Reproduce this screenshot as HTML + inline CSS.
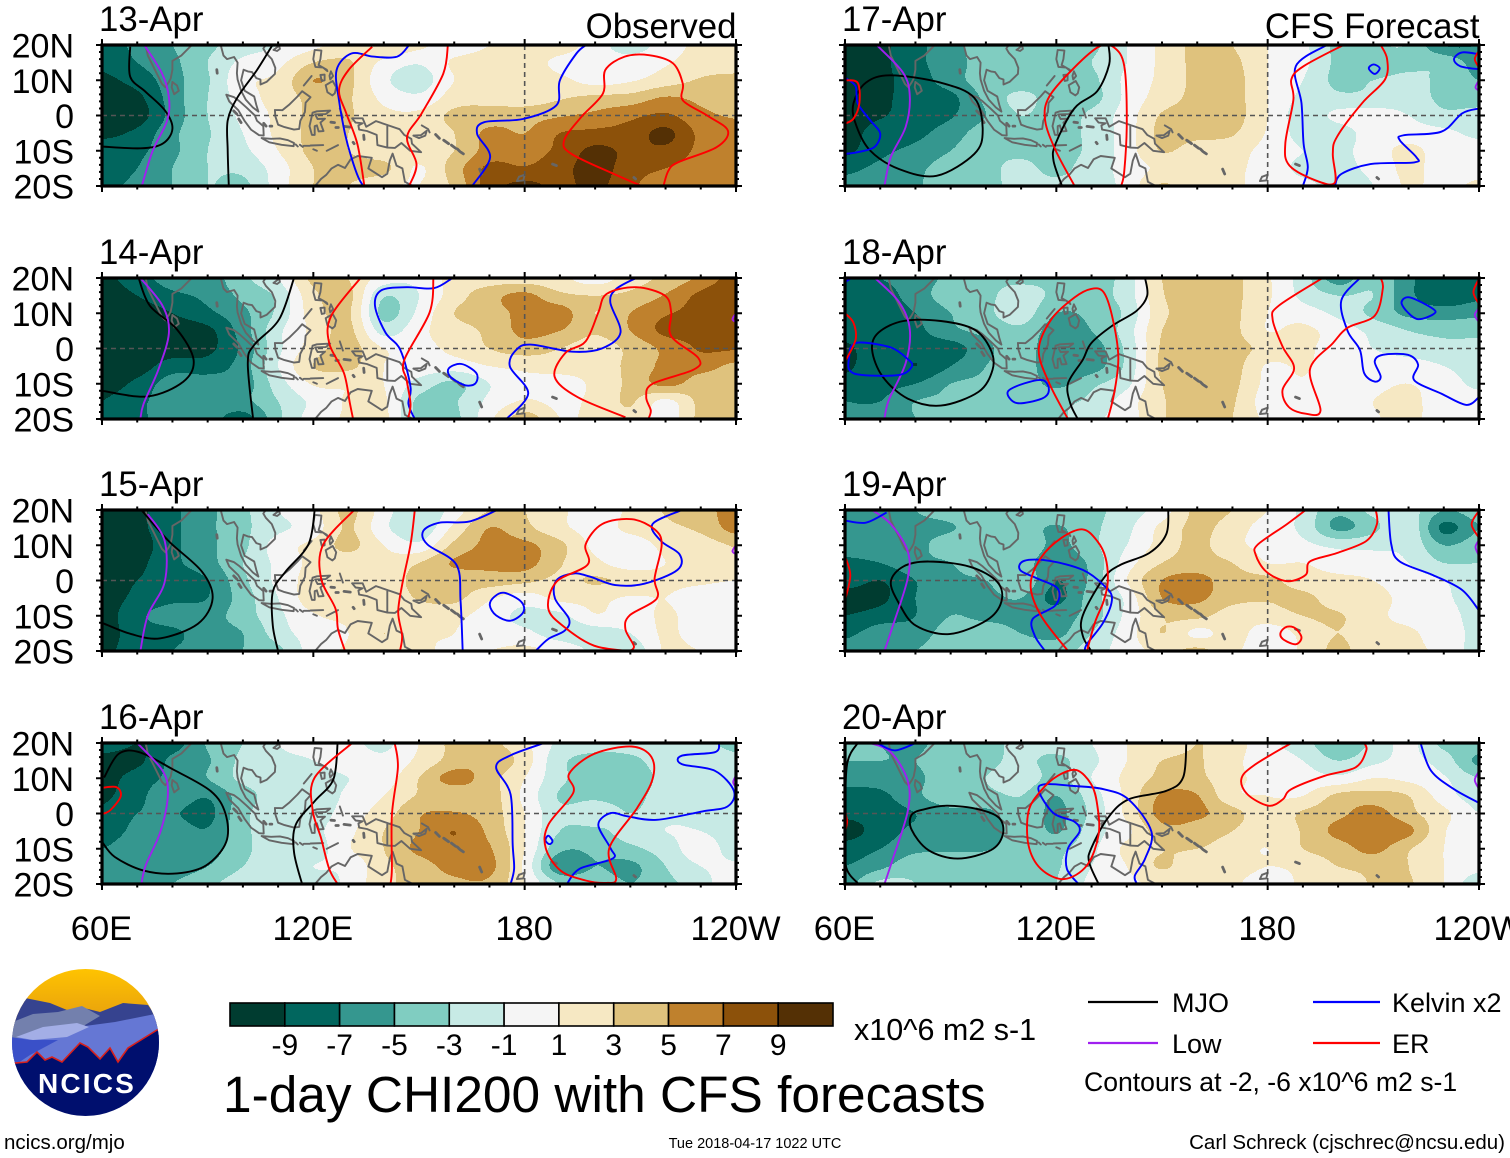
<!DOCTYPE html>
<html lang="en">
<head>
<meta charset="utf-8">
<title>1-day CHI200 with CFS forecasts</title>
<style>
html,body{margin:0;padding:0;background:#fff;}
body{width:1510px;height:1158px;overflow:hidden;}
svg{display:block;}
text{font-family:"Liberation Sans",Arial,sans-serif;fill:#000;}
</style>
</head>
<body>
<svg id="figure" xmlns="http://www.w3.org/2000/svg" width="1510" height="1158" viewBox="0 0 1510 1158">
  <g id="panels"></g>

  <g>
    <defs>
      <clipPath id="logo-clip"><circle cx="85.5" cy="1042.5" r="73.5"/></clipPath>
      <linearGradient id="logo-sky" x1="0" y1="0" x2="0" y2="1"><stop offset="0" stop-color="#ffc400"/><stop offset="1" stop-color="#e49a10"/></linearGradient>
    </defs>
    <g clip-path="url(#logo-clip)">
      <rect x="10" y="968" width="152" height="60" fill="url(#logo-sky)"/>
      <polygon fill="#36438f" points="25,998 50,1003 67,1010 80,1007 100,1012 123,1003 148,1005 165,1030 165,1070 10,1070 10,1030"/>
      <polygon fill="#7380ad" points="10,1023 33,1014 58,1012 82,1006 100,1016 85,1025 70,1040 10,1045"/>
      <polygon fill="#6577d4" points="10,1040 50,1030 85,1026 115,1022 160,1013 165,1080 10,1080"/>
      <polygon fill="#a3aee6" points="16,1037 43,1027 77,1023 89,1027 67,1037 33,1040"/>
      <polygon fill="#3a50c8" points="10,1037 30,1040 58,1040 30,1055 15,1065 10,1065"/>
      <polygon fill="#000f6e" stroke="#d8201c" stroke-width="1.6" points="10,1060 15,1063 27,1062 37,1052 45,1060 52,1057 62,1062 80,1043 88,1047 100,1059 110,1048 118,1062 128,1048 157,1030 170,1030 170,1125 10,1125"/>
    </g>
    <text x="87" y="1093" font-size="28" font-weight="700" text-anchor="middle" letter-spacing="2.2" style="fill:#fff">NCICS</text>
  </g>

  <g id="colorbar"></g>
  <text x="854" y="1040" font-size="30.5">x10^6 m2 s-1</text>
  <text x="223" y="1112" font-size="51.4">1-day CHI200 with CFS forecasts</text>

  <g>
    <line x1="1088" x2="1158" y1="1002" y2="1002" stroke="#000" stroke-width="2.2"/>
    <text x="1172" y="1012" font-size="27">MJO</text>
    <line x1="1088" x2="1158" y1="1043" y2="1043" stroke="#a020f0" stroke-width="2.2"/>
    <text x="1172" y="1053" font-size="27">Low</text>
    <line x1="1313" x2="1380" y1="1002" y2="1002" stroke="#0000ff" stroke-width="2.2"/>
    <text x="1392" y="1012" font-size="27">Kelvin x2</text>
    <line x1="1313" x2="1380" y1="1043" y2="1043" stroke="#ff0000" stroke-width="2.2"/>
    <text x="1392" y="1053" font-size="27">ER</text>
    <text x="1084" y="1091" font-size="26.6">Contours at -2, -6 x10^6 m2 s-1</text>
  </g>

  <text x="4" y="1149" font-size="20.5">ncics.org/mjo</text>
  <text x="755" y="1148" font-size="14.5" text-anchor="middle">Tue 2018-04-17 1022 UTC</text>
  <text x="1505" y="1149" font-size="20.5" text-anchor="end">Carl Schreck (cjschrec@ncsu.edu)</text>
</svg>

<script>
/* ---------- Chart data (CHI200 in 10^6 m2 s-1; rows 20N..20S every 5 deg, columns 60E..120W every 10 deg) ---------- */
const dates = ['13-Apr','14-Apr','15-Apr','16-Apr','17-Apr','18-Apr','19-Apr','20-Apr'];
const colorLevels = [-9,-7,-5,-3,-1,1,3,5,7,9];
const bandColors = ['#003c30','#01665e','#35978f','#80cdc1','#c7eae5','#f5f5f5','#f6e8c3','#dfc27d','#bf812d','#8c510a','#543005'];
const latTicks = [20,10,0,-10,-20];
const latTickLabels = ['20N','10N','0','10S','20S'];
const lonTicks = [60,120,180,240];
const lonTickLabels = ['60E','120E','180','120W'];
const gridLons = [60,70,80,90,100,110,120,130,140,150,160,170,180,190,200,210,220,230,240];
const gridLats = [20,15,10,5,0,-5,-10,-15,-20];

const field13 = [
[-8,-6.5,-5,-3.5,-2,-1,0.5,2,3,1.5,0,1,2,2,0,-2,0,1.5,2],
[-8.5,-7,-5.5,-3,-0.5,0.5,3,3.2,0.5,-0.8,1.3,2,2,0.5,0,0,0.8,2,2.2],
[-9.5,-8.2,-5.8,-3.2,0.5,1.5,5,3.5,-0.5,-2,1,2,2.2,1.5,0.3,0.8,2,3.2,3.5],
[-10,-9.5,-6,-3,0,1.8,3.5,3.2,0.5,-0.5,2,2.5,2,2.8,3.5,3.8,5.2,4.5,4],
[-10,-10,-6.2,-3,-0.5,1.5,3.5,3.2,1.5,1.5,3.5,3.8,4.2,4.8,5.5,6.5,7.3,5.5,4.8],
[-9.5,-8.5,-5.5,-3.2,-1,1.5,3.5,3,1.5,1.8,3,5.5,5,7,7.5,7.8,9.5,6.5,5.8],
[-8,-7.5,-5.5,-3,-1.5,1,3.5,3,1.8,2,3,5.8,6,7.5,9.5,8.5,8.5,6.5,6],
[-8,-7,-5,-3,-2.5,0,3,3.5,3.5,0.8,4,7.5,7.2,8.3,9.8,8,7,6,5.8],
[-7.5,-6.5,-5,-3,-3.5,0,3,3,1.5,1,3.5,8,9.5,8.5,9.5,7.5,5.5,6,5.8]];

const field14 = [
[-9.5,-8,-6,-6,-3.5,-1,3.5,3,0,-0.5,1.8,2,2,1.5,0,2,3.5,5.5,8],
[-10,-9,-7.5,-6.5,-4.5,-2.5,2.5,3.5,-2.8,-1,2,4.2,5.5,3.5,3,3.5,5.2,7.5,8.8],
[-10,-10,-9,-7.5,-5.5,-2.5,2,3.2,-3.6,-0.5,3,4.2,5.5,6,3,5,6.8,7.5,8],
[-10,-10,-10,-9.5,-6,-1.5,1.5,3.5,-1.8,0.5,2,3.5,5.5,5,3.2,5,7.5,7.5,8],
[-10,-10,-10,-9.5,-6.5,-1.5,2,3.8,1,0.5,1.5,3,4,3,2,3.5,5.5,7.2,7.2],
[-10,-10,-8,-8,-6,-1,3,3.5,1,0.3,0,1,1.5,2,2,3.5,5.5,5.8,4.5],
[-10,-8.5,-6,-6,-6,-2,1.2,1.2,1,-1.8,-3.4,-1,0.5,0,1.5,3.5,5.5,4,3.8],
[-9,-7.5,-6,-5.5,-5.5,-3,-0.5,1.2,1.3,-3.5,-3.2,-0.5,1.2,0.5,1.5,3.2,0.5,3.5,3.5],
[-9,-7.5,-6,-6,-8,-3.5,0,1.2,1.5,-3.5,-3.5,0.5,4,1,1.5,2.5,0,3.5,3.5]];

const field15 = [
[-10,-9.5,-7.5,-5.5,-3.5,-1,0.5,3.5,0,-3,0,3,3,1.5,-0.5,1.5,3.2,4.5,5.5],
[-10,-9.5,-7.5,-5.5,-3.5,-1.5,0,3.2,-0.5,-2.5,1.5,5,3.5,1.5,0.3,1.5,2.5,3.5,5.8],
[-10,-10,-7.5,-5.5,-3.5,0,1.5,3.5,1,-0.5,3.5,5.5,5.5,3.5,0.5,0,1.5,2,3.2],
[-10,-9.5,-7.5,-5.8,-3,-0.5,1.5,2,1.5,3,5.2,5.5,5.8,3.2,1.5,0,1,1.5,2.8],
[-10,-9,-8,-7,-3.5,-0.5,1.8,1.5,1.5,3.8,3.8,4,3.5,2.5,3.2,2.5,1.5,1.3,1],
[-10,-8.5,-7.5,-7,-4,-1,2,1.5,1.3,3.2,3.5,1.3,0,1.5,1.5,0.8,1,0,0],
[-10,-7.5,-6,-5.8,-4,-1.5,0.8,1.3,1.3,1.5,1.5,0,-1.5,-1.5,0.8,0,1.3,0,0],
[-10,-8,-7.5,-5.8,-5,-2,0,1,3,1.3,1,0,-0.5,-2,-2,-1,1.3,0,0],
[-9.5,-8,-7,-6,-5,-3.5,0,1.2,1.5,1.2,0.8,1,1.5,0.5,-1.5,-2.5,1.3,1,1]];

const field16 = [
[-7.5,-9,-8,-4.8,-3,-1,-0.5,-0.5,-1.5,1,3.5,3.5,1.5,-1.5,-2.5,-2,-1.5,-2.5,-3.5],
[-10,-9.5,-6.5,-5.2,-2.5,-1.5,-1,0,-0.5,1.5,3.8,4.5,2,-2.5,-3.5,-3.5,-2,-2,-2.5],
[-10,-8,-6.5,-5,-2.5,-2,-2,-1,0,3,5.8,3.8,1,-2.5,-4,-4,-2.5,-2,-2],
[-9.5,-7.5,-6,-6.8,-4,-2,-2.5,-0.5,1,3.2,3.5,3.8,0.5,-3.2,-3.5,-3.8,-2,-2,-1.5],
[-8.5,-7,-6.8,-7.6,-3.5,-2,-2,0,2,4.8,5.2,4,1,-2.5,-1.5,-3,-1.5,-1.5,-1.5],
[-8,-6.5,-6,-6.8,-3.5,-2,-1.5,0.5,3,5,7,4.5,1,-3,-3.5,-2,-1,-1,-2],
[-7,-6,-6,-6,-3.5,-2,-2,0.8,3,5.5,6.3,5.2,1,-4.5,-4.5,-3.5,-2,0,-2],
[-6.5,-6,-6,-5,-3,-2,-1,-0.5,2.5,4,5.8,5.6,0.5,-6.5,-5,-5.5,-3,-1,-0.5],
[-7,-5.5,-5,-3.5,-2,-2,-2,-0.5,2.5,3.5,4.5,4.6,1,-3,-3.5,-5,-3.5,-2,1]];

const field17 = [
[-10,-9.5,-7.5,-6,-3.5,-3.5,-4,-3.5,-1,1.5,3.5,3,1,-0.5,-3.5,-3.2,-3.2,-7,-7],
[-10,-9.5,-7.5,-6,-4,-3.5,-4,-3,-1,1.5,3.5,3.5,1,-0.5,-3.5,-4.2,-3.5,-3.5,-6],
[-10,-9.5,-8,-6,-4,-4,-4,-3.5,-0.5,1.5,3.5,3.8,1,-1,-3.5,-3,-2.5,-3.5,-5],
[-10,-9.5,-8,-7.5,-4.5,-2.5,-4,-3.8,-0.5,2,3.5,3.8,1,-1.5,-2.5,-2.5,-2,-3.5,-4],
[-10,-9.2,-8,-7.2,-5,-3,-4,-2.5,0,3.2,3.6,3.8,1,-2,-0.5,0,-1,-2.5,-2.2],
[-10,-8,-7.5,-6,-4,-4,-3.8,-2.5,0,3.6,3.6,3.2,0.8,-1.8,-2,0,0,-0.5,-1.5],
[-9.5,-7.5,-6.5,-5,-3.5,-3.5,-3.8,-2.5,0,3.1,2,1.8,0.3,-1,-1.5,0,1.5,0,0],
[-7.5,-6.5,-5.5,-4,-3.5,-2.5,-3.5,-2,-0.3,1.5,1.5,1.3,0.3,-1.5,-1.5,-0.5,1.5,0,0],
[-6.5,-6,-5.2,-4.2,-3.5,-2.5,-2.5,-2,-0.3,3.2,1.3,1.3,0.3,-0.5,-1.5,-1,1.3,0.3,1.5]];

const field18 = [
[-7.5,-7,-6,-4.5,-3.5,-3.5,-3.5,-4,-2,3,3.8,3.5,1.3,-2,-6,-3.5,-6.5,-8.5,-8],
[-8.5,-8,-6,-4,-3.5,-2,-3.5,-3.8,-2,2.8,3.8,3.5,1.3,-1.5,-3,-3,-6.5,-8.3,-7.5],
[-8,-8,-7,-5,-3.5,-2,-5,-4.5,-2.5,2.5,3.8,3.5,1,0,-1.5,-3.5,-5.5,-6,-5.5],
[-8,-7.5,-7.5,-5.5,-4.5,-3.5,-6,-5,-2,3,3.8,3.5,1,1.5,0,-1.5,-3,-3.5,-3.5],
[-9.5,-7.5,-8,-8,-5.5,-4,-6.5,-6,-2.5,3.3,3.8,3.8,2.3,1.5,0,-1,-2,-2.5,-2.5],
[-9.5,-7.5,-9,-7,-5,-4,-6.5,-6,-2.5,3.5,3.8,3.8,0.8,1.2,0,0,0,-1,-2],
[-8,-7.5,-7,-5,-4.5,-3.8,-5.5,-3.5,-1.5,3,3.8,3.5,0.5,0.8,0,0.5,1,0,-1.5],
[-7,-7,-5,-4.5,-3.5,-3.5,-3.5,-2.5,0,2.8,3.8,3.2,0,0,0,1,1.5,0,0],
[-7,-5.5,-5,-3.5,-3.5,-3.5,-3.5,-1.5,0,2.8,3.8,3,0.5,0,0,0.8,1.5,0,0]];

const field19 = [
[-5.5,-5.5,-5,-4,-3.5,-3.5,-3.5,-3.5,-2,0,3.5,3,1,-1.5,-4.5,-2.5,-2.2,-5,-4],
[-6,-5.5,-5.5,-5.2,-3.5,-4,-5.2,-3.5,-1.5,1.5,3.5,2,0,-1.5,-5.5,-3.5,-1.5,-7.5,-5],
[-6,-5.5,-5.5,-4,-3.5,-3.2,-5.5,-3.5,-1,1.8,3.5,1.5,0.5,-0.5,-1.5,-1.5,-1.5,-5,-3.8],
[-7.5,-7,-5.5,-5,-3.5,-4,-6.5,-4.5,0,3,3.8,3,1,1,0,0,-1,-3,-3],
[-8,-9,-7,-5.5,-5,-3.5,-7,-4.5,1,5,5.7,3.8,3.5,2,1.5,1,0,-1,-2.5],
[-10,-9.5,-7,-5.5,-5.5,-5,-7.5,-4,-0.5,5,5.4,3.6,3.2,3.5,2,1.5,0.5,-0.5,-2.5],
[-9,-8,-7,-5,-5.5,-5.5,-6,-4,-0.5,3,3.5,2,2,3,3.2,1.5,0.5,0,-2],
[-7.5,-6,-6,-4,-3.8,-5,-5.5,-3,0,3,0.5,1.8,0,1.5,3,1.5,1.3,0,-1.5],
[-6,-5.5,-5,-3.8,-3.5,-3.5,-4,-2,0,1.8,3.5,1.5,0,1.3,3.5,1.5,1.3,0.5,-2]];

const field20 = [
[-4.5,-5,-5.5,-3.8,-3.5,-2.5,-2,-1,1,1.5,3,2,-0.5,-2,-5,-2.5,-0.5,-3.5,-3.5],
[-5,-5,-5,-3.5,-3.5,-2.5,-3.5,-1.5,1,3,3.2,1.5,0,-1,-3,-1.5,-0.5,-2,-5.5],
[-6,-6,-5.5,-3.5,-3,-2,-3.5,-1,1.5,3.5,3.5,1.5,0.5,0,-0.5,1,0.5,-0.8,-3],
[-8,-7.5,-5.5,-3.5,-3.5,-3,-5,-2,1.5,5.3,5.1,1.5,1,1,3.5,3.8,3,0,-2],
[-8.5,-8,-7,-5.6,-5.6,-3.5,-5.5,-2.5,1.5,5.7,5.4,3.8,1.5,3.3,4.5,5.8,3.6,1.5,-1],
[-10,-8,-6.5,-5.6,-6.5,-3.5,-5.2,-2,0.5,4.2,4,3,1.5,3.2,5.6,6.5,5.5,1.2,-0.3],
[-8,-7,-5.5,-5.3,-5.2,-3.5,-3.5,-1.5,1.5,3,3,2,1,3,4,5.6,3.2,1,0],
[-7,-5.5,-3.5,-3.5,-3.5,-3.5,-3.2,-1,1,3.2,1.5,1.8,1,1.5,3,3.5,3,1,-0.3],
[-6,-2.5,-3,-3.5,-3.5,-3.2,-3,-0.5,0.5,1.5,1.5,1.3,0,1.3,1.5,3.2,3.2,1,-2.5]];

/* Contour lines as [lon, lat] traces; a trace whose last point repeats the first is closed */
const mjo13 = [[[68,19.5],[68,11],[72.4,6.7],[77.9,1.4],[80,-3.8],[77.2,-8],[71,-9.3],[60,-8.8]],
[[108.4,20],[104,12.9],[98.5,5.2],[95.7,-1.4],[95.7,-10],[96,-20]]];
const low13 = [[[72,20],[77,12],[79,5.2],[78.5,-1.4],[74.4,-10],[71.3,-20]]];
const kelvin13 = [[[147.2,20],[143.8,16.7],[137,16.7],[130.8,17.6],[126.6,12.9],[127.3,4.3],[129,-5.2],[130.8,-11.9],[132.8,-17.6],[134.2,-20]],
[[165.1,-20],[170.2,-11.9],[166.5,-5.2],[168.5,-1.9],[179.5,-1],[189,2.9],[190,10],[194.7,17.6],[197.4,20]]];
const er13 = [[[136.7,19.5],[130,12.9],[127.3,7.1],[129.4,0.5],[132.5,-8.1],[134.5,-20]],
[[158.2,20],[156.9,11.9],[150.7,0.5],[146.6,-6.2],[149.3,-13.8],[147.2,-20]],
[[213.2,-20],[205.6,-16.7],[193.3,-10.9],[191.2,-7.1],[196,-0.5],[202.2,6.2],[202.9,12.9],[208.4,16.7],[215.3,17.1],[222.1,14.8],[224.9,9],[224.9,4.3],[231.8,0],[237.7,-4.3],[234.5,-9],[223.5,-13.3],[220.8,-15.7],[219.4,-20]]];

const mjo14 = [[[70.4,20],[73.6,12.1],[81.3,5.4],[86,-3.2],[83.1,-9.4],[73,-13.6],[60,-12]],
[[114.5,20],[110.3,8.3],[103.2,1],[101.4,-4.2],[102.9,-20]]];
const low14 = [[[70.9,20],[77.2,12.1],[79,4.4],[76,-6],[71.8,-15.7],[70.9,-20]],[[240,10],[239,8.3],[240,7.5]]];
const kelvin14 = [[[159.5,20],[154.2,17.1],[146.5,17.4],[139.3,16.5],[137.5,12.1],[140.5,4.5],[144.7,-0.4],[147.6,-10.9],[147,-15.7],[148.8,-20]],
[[162.1,-4.4],[166.3,-7],[166,-9.9],[163,-10.4],[158.9,-8],[158.5,-5.6],[162.1,-4.4]],
[[174.8,-20],[181,-12.8],[175.8,-5.1],[177.6,-0.4],[181.7,1.1],[193.6,-0.9],[201.9,0],[207.2,4.5],[204.3,13.1],[206,16.9],[211.6,20]]];
const er14 = [[[133.4,20],[125.1,9.3],[124.5,1.5],[128.7,-7],[130.4,-15.7],[131.3,-20]],
[[154.1,20],[153,10.2],[145.8,-3.3],[146.5,-9],[147.6,-15.7],[147,-19.5]],
[[208.6,-19.5],[195,-13.8],[188.5,-8],[191.5,-1.3],[197.3,2],[200.9,10.2],[203.3,15.5],[211.6,17.4],[219.8,15],[221.6,10.2],[221.6,3.5],[229.3,-2.7],[228,-6],[216.3,-10],[214.5,-13.8],[215.8,-17.6],[215.1,-20]]];

const mjo15 = [[[71.2,20],[78.9,11.2],[88.4,2.5],[91.4,-5.1],[87.2,-12.3],[76.6,-16.4],[68.3,-15.2],[60,-12]],
[[120.4,20],[118.6,10.2],[112.1,2.5],[108.5,-3.2],[108.5,-12.8],[110,-20]]];
const low15 = [[[73,18.8],[77.8,11.2],[77.8,-0.4],[73,-9.9],[70.9,-20]],[[240,10],[239,8.3],[240,7.5]]];
const kelvin15 = [[[172.2,20],[164.2,16.7],[155.8,16.4],[151.2,14],[152.4,10.2],[160.6,4.5],[161.8,-6],[162.4,-20]],
[[174.3,-3.5],[179,-6],[179.6,-9],[176,-11.4],[171.9,-9.9],[170.1,-7],[171.4,-4.6],[174.3,-3.5]],
[[224.6,20],[216.3,16],[218.7,11.2],[224,7.4],[223.4,3],[214,-0.9],[205.7,-1.3],[198.5,1.1],[193.8,2],[189,0],[188.6,-5.1],[192.6,-10.9],[191.4,-14.2],[186.7,-16.6],[183.1,-20]]];
const er15 = [[[131.6,20],[122.8,10.2],[122.2,0.6],[126.3,-8],[127,-13.8],[129,-20]],
[[148.8,20],[147.6,10.2],[145.2,-1.3],[144.1,-9],[145.2,-15.7],[144.6,-20]],
[[209.2,-20],[199.7,-18.5],[191.4,-13.3],[186.7,-8],[189,-0.4],[197.9,4.5],[197.3,10.2],[202,16],[210.4,17.4],[216.9,14.5],[218.9,10.2],[216.9,0.6],[217.5,-5.1],[209.8,-9.9],[208.6,-13.8],[211,-18.6],[209.8,-20]]];

const mjo16 = [[[60,-8],[63.6,-12.3],[71.8,-16.2],[81.3,-17],[89.6,-14.7],[95.3,-8],[95,0.1],[90.8,6.4],[80,12.6],[70.6,17.4],[64.7,16.9],[60.6,10.2]],
[[126.9,20],[125.7,9.7],[120.4,3.5],[115,-3.2],[114.5,-10.9],[116.8,-20]]];
const low16 = [[[70,20],[77.2,12.1],[78.7,5.4],[76.6,-5.1],[72.4,-14.7],[71.2,-20]],[[240,10.8],[239.2,8.9],[240,7.4]]];
const kelvin16 = [[[185.5,20],[176,16.5],[171.9,13.1],[176,5.4],[176.6,-9],[177,-15.7],[176,-20]],
[[186.7,-6.3],[187.9,-7.8],[187,-8.7],[185.9,-7.6],[186.7,-6.3]],
[[235.2,20],[234,17.4],[224.6,16.4],[224.6,14],[234,12.1],[239.4,6.4],[237.6,2],[230.5,0.6],[217.5,-1.8],[209.2,-0.8],[204.4,0.1],[200.9,-3.2],[204.4,-9.9],[205,-12.8],[195.6,-15.7],[192,-20]]];
const er16 = [[[60,7.3],[64.1,7.5],[65.3,4.9],[62.4,1],[60,-0.2]],
[[131,20],[120.4,10.2],[119.8,1],[122.2,-7],[124.5,-15.7],[126.9,-20]],
[[143.1,20],[144,13.1],[142.3,-0.4],[142.3,-15.7],[141.9,-20]],
[[210.4,19],[216,16],[216.3,9.7],[211.9,1.5],[204,-9.9],[206,-18.5],[203.3,-19.7],[197.3,-19],[190.2,-16.2],[186,-9.9],[186.7,-3.2],[193.8,5.9],[192.6,11.2],[199.7,16.9],[210.4,19]]];

const mjo17 = [[[73,11.4],[87.2,9.3],[96.7,5],[99.1,-4.2],[96.7,-10.9],[86,-17.1],[75.4,-15.2],[67.1,-9.9],[63,-2.3],[62.4,3.5],[65.9,9.3],[73,11.4]],
[[134.8,20],[135,14.5],[131.6,6.9],[125.1,2],[119.8,-8],[119.2,-12.8],[121.6,-20]]];
const low17 = [[[69,20],[76.5,12.1],[78.4,5.4],[77.2,-3.3],[73,-11.8],[71.2,-20]],[[240,10],[239,8],[240,7]]];
const kelvin17 = [[[60,10.7],[63,8.3],[63.6,3.5],[67.1,-1.3],[70,-5.1],[68.3,-9],[63.6,-10.4],[60,-10.9]],
[[196.8,20],[188,14],[189.6,3.5],[190.2,-8],[191.4,-14.7],[190,-20]],
[[210.1,14.5],[211.8,13.4],[210.4,11.8],[208.7,13.4],[210.1,14.5]],
[[199.1,-20],[200.9,-16.6],[209.2,-13.8],[221.6,-13.3],[222.2,-11.8],[217.5,-7],[218.7,-5.6],[229.3,-4.6],[235.2,0.6],[240,2]],
[[240,17.4],[235.2,17.9],[232.9,16],[234.7,14],[240,13.1]]];
const er17 = [[[60,10],[63.6,9.3],[64.1,3.5],[62.4,-0.9],[60,-2.3]],
[[125.2,-20],[119.8,-9.9],[116.8,-1.3],[118,5.4],[125.1,13.6],[132.2,19.6],[136.4,19.3],[139.3,14],[140,-1.3],[139.3,-15.7],[138.4,-20]],
[[201.5,20],[190.2,14],[186.7,10.2],[187.3,4.5],[185,-8],[186.2,-14.2],[193.8,-18.5],[199.1,-19],[198.5,-10.9],[199.7,-6],[206.8,3.5],[213.3,10.2],[213.9,16],[212.1,20]],
[[240,18.4],[238.8,16],[240,13.6]]];

const mjo18 = [[[76.6,7.8],[87.2,7.8],[96.7,5.4],[101.4,-0.4],[101.9,-6],[97.9,-12.3],[87.2,-16.2],[77.8,-14.2],[70.7,-8],[67.7,-0.4],[69.5,4.5],[76.6,7.8]],
[[145.2,20],[145.8,15],[142.8,10.7],[135.8,6.4],[129.9,1.5],[127.5,-3.2],[123.3,-9.9],[124,-15.7],[126.1,-20]]];
const low18 = [[[68.5,20],[75.4,13.1],[78.4,5.4],[77.2,-4.2],[72.4,-14.7],[71.2,-20]],[[240,11.5],[238.8,9.5],[240,7.5]]];
const kelvin18 = [[[60,18.8],[61.8,20]],
[[64.7,1.7],[73,0.3],[77.8,-3],[79,-5.1],[75.4,-7.5],[64.7,-7.5],[61.2,-6],[61.2,-2.3],[61.8,0.6],[64.7,1.7]],
[[106.2,-12.3],[110.9,-9.9],[116.2,-9],[117.9,-11.8],[115.9,-14.2],[108.8,-15.5],[106.2,-12.3]],
[[206.2,20],[200.9,13.6],[202.7,5],[206.2,-0.4],[207.4,-7],[210.4,-9.4],[212.1,-8],[210.4,-3.7],[212.7,-1.8],[219.8,-1.8],[222.7,-4.6],[221.6,-9],[229.3,-12.8],[236.4,-16],[240,-13.8]],
[[220.4,14.5],[227,11.2],[227,9.7],[222.8,8.3],[219.8,10.2],[218,13.1],[220.4,14.5]]];
const er18 = [[[60,10],[62.4,7.3],[63,2.5],[60,-3.7]],
[[123.3,-20],[118,-9.9],[115,-0.4],[118.6,8.3],[125.2,14.5],[129.9,16.9],[133.4,16],[135.8,9.3],[137.6,-2.3],[136.4,-12.8],[134.6,-20]],
[[195.6,20],[183.1,12.1],[181.4,8.3],[184.2,0.6],[187.5,-5.6],[184.2,-11.8],[186,-16.6],[190.8,-18.5],[195,-17.6],[192,-6],[198.5,1.5],[202.7,5.9],[210.4,9.3],[212.7,17],[212.1,20]],
[[240,19.8],[238.4,16],[240,12.6]]];

const mjo19 = [[[83.7,5.4],[95.5,3.9],[103.2,-0.4],[104.4,-6],[100.2,-11.3],[89.6,-15.2],[80.1,-12.8],[75.4,-6.6],[73,-0.4],[76.6,4],[83.7,5.4]],
[[151.8,20],[151.2,13.1],[146.4,7.8],[138.1,4.4],[133.4,0.6],[127.5,-9.9],[127.5,-15.7],[129.9,-20]]];
const low19 = [[[67.7,20],[73,16],[77.8,8.3],[77.8,0.6],[73.6,-12.8],[71.2,-20]],[[240,11.5],[239,9.5],[240,7]]];
const kelvin19 = [[[60,17],[65.9,16.4],[71.8,19.3]],
[[128.1,-20],[128.7,-18],[133.4,-11.8],[135.8,-5.1],[133.4,-1.3],[127.5,3],[118,5.6],[110.9,5.6],[109.7,3],[114.5,0.6],[120.4,-2.3],[119.8,-7],[113.3,-10.9],[113.9,-15.7],[116.8,-20]],
[[214.3,20],[215.1,10.2],[217.5,5.4],[227,1.5],[235.2,-2.7],[240,-8.5]]];
const er19 = [[[60,6.9],[61.5,1.5],[60,-5.6]],
[[123.3,-20],[115.6,-9.9],[112.7,-1.3],[115.6,6.4],[121.5,12.1],[127.5,14.5],[131.6,11.2],[134,6.4],[134.6,-0.4],[133.4,-6],[131,-11.8],[128.7,-20]],
[[190.8,20],[185.5,16],[177.2,10.2],[176.6,7.3],[179.6,2.5],[185.5,-0.2],[190.8,1.6],[192,5.4],[199.7,7.8],[208,11.2],[211,16],[210.7,20]],
[[185.5,-13.1],[187.9,-13.6],[189.6,-16.2],[187.9,-18.1],[184.3,-16.6],[183.7,-14.7],[185.5,-13.1]],
[[240,19.8],[237.9,16],[240,12.1]]];

const mjo20 = [[[63.6,20],[60.6,14],[60,-1.3],[60.2,-14.7],[63.6,-19.8]],
[[89,2.2],[97.9,1.2],[103.8,-1.3],[104.8,-6],[101.4,-10.4],[92,-12.8],[83.7,-10.4],[78.9,-4.6],[78.9,-0.4],[82.5,1.2],[89,2.2]],
[[156.9,20],[156,10.2],[151.2,6.4],[140.5,4],[134.6,-1.3],[129.9,-9.9],[129.3,-13.8],[132,-20]]];
const low20 = [[[67.1,20],[73,17.4],[77.8,9.3],[77.8,0.6],[73.6,-12.8],[71.2,-20]],[[240,12],[238.8,9.5],[240,7]]];
const kelvin20 = [[[69.5,19.8],[74.2,17.9],[80.1,20]],
[[126.3,-20],[123,-15.7],[123.3,-9.9],[126.6,-5.1],[125.1,-2.3],[119.2,0.1],[115,6.4],[116.8,8.3],[125.1,7.8],[133.4,6.9],[140.5,4],[147,-5.1],[145.2,-12.8],[142.3,-17.6],[142.9,-20]],
[[223.4,20],[226.4,12.1],[232.9,6.9],[240,3]]];
const er20 = [[[60,0.6],[60.6,-2.3],[60,-5.1]],
[[125.7,12.3],[129.9,8.3],[131.6,2.5],[132,-6],[128.7,-14.7],[122.2,-18.6],[115.6,-15.7],[112.1,-9],[112.1,0.6],[115.6,6.4],[120.4,10.7],[125.7,12.3]],
[[186.7,20],[176,13.6],[172.5,9.7],[174.3,5.4],[180.2,2.2],[184.3,4],[186.7,6.9],[196.2,10.7],[205,13.1],[208,17.9],[207.4,20]]];

const coastlines = [
[[72.4,20],[73,17],[74.5,14],[75.5,12],[77,9],[78,8],[79,9.5],[79.5,10.5],[80,13],[80,15.5],[82.5,17],[85.5,20]],
[[80,9.5],[81.3,8.5],[81.8,7],[80.5,6],[79.8,8],[80,9.5]],
[[93.7,20],[94.5,17],[95.5,16],[97.5,16.6],[98.5,15],[98.3,12],[98.5,10.2],[99.5,7],[100.8,4.5],[102.8,2.3],[104.4,1.1],[103.8,3],[103.2,5.4],[100.5,7],[99.5,10],[100.2,13],[101.4,12.5],[102.6,12.3],[103.8,10.6],[105,10.2],[105,8.8],[106.8,9.6],[109.1,11.8],[109.2,13.5],[108.2,16],[106.5,17.8],[105.8,19],[106.5,20]],
[[108.7,18.6],[110.3,19.8],[110.5,18.9],[109.7,18.3],[108.7,18.6]],
[[95.3,5.9],[97.5,5.2],[99.1,4],[101,2.3],[103.4,0],[104,-1.5],[105.8,-3],[105.9,-5.7],[104.6,-5.6],[102.3,-4],[100.5,-1.6],[98.7,1.5],[96.1,4],[95.3,5.9]],
[[105.3,-6.4],[108,-6.6],[110.5,-6.5],[112.8,-7],[114.5,-7.8],[114.4,-8.7],[111,-8.3],[107.5,-7.6],[105.3,-6.4]],
[[115,-8.2],[115.6,-8.8]],[[116.2,-8.3],[117,-8.9]],[[117.3,-8.6],[119,-8.6]],[[119.2,-8.5],[122.8,-8.4]],[[120,-9.6],[121,-10]],[[123.8,-10],[127,-8.4]],
[[109.1,1.6],[111.2,1.5],[113.3,3.2],[115.5,5.4],[116.8,6.9],[119.2,5.2],[117.8,3.6],[117.6,1],[116.3,-1.5],[116,-3.8],[114.5,-4],[111.8,-3.3],[110,-2.6],[109.2,-0.2],[109.1,1.6]],
[[119.8,0.8],[121,1.2],[124.8,1.4],[123.5,0.4],[120.5,0.3],[121.2,-1],[123.3,-0.9],[122,-2],[122.9,-4.4],[121.5,-4.5],[121,-2.8],[120.4,-3],[120.4,-5.5],[119.6,-5.5],[118.9,-3],[119.8,0.8]],
[[120.4,18.6],[122.3,18.4],[122,16],[121.5,14.3],[123.8,13],[124,12.6],[122.8,13.6],[120.6,13.8],[120,16],[120.4,18.6]],
[[122,11.5],[123.2,11.6],[123.2,10],[122.4,9.8],[122,11.5]],
[[125,12.5],[125.6,11.2],[124.8,10.2],[124.6,11.3],[125,12.5]],
[[123.5,8.6],[125.5,9.8],[126.5,8],[126.1,6.3],[125.4,5.7],[124,6.6],[123.5,8.6]],
[[117.3,8.5],[119.5,11.2]],
[[127.5,2],[128,0.6],[128.4,-0.6]],
[[131,-0.8],[134,-0.8],[135,-3.2],[137.8,-1.6],[141,-2.7],[144.5,-3.9],[145.8,-5.5],[147.8,-6.6],[148,-8],[150.6,-10.4],[147.5,-10],[145,-7.8],[143.2,-9.2],[141,-9.1],[138.2,-8.4],[138,-5.5],[135.2,-4.4],[133,-4],[132.8,-2.8],[134,-2.2],[132,-2],[131,-0.8]],
[[141,-2.7],[141,-9.1]],
[[120.5,-20],[122.2,-18],[123.7,-16.8],[125.2,-15],[127,-14],[129,-14.9],[130.6,-12.4],[132.6,-11.5],[136.6,-12],[135.6,-15],[139.5,-17.5],[141,-16.5],[141.7,-12.8],[142.5,-10.8],[143.6,-14.2],[145.3,-15],[146,-18.8],[148.2,-20]],
[[148.4,-5.7],[150.5,-5.6],[152.2,-4.3],[151.8,-5.7],[150,-6.4],[148.4,-5.7]],
[[150.8,-2.8],[152.6,-3.9],[153,-4.8]],
[[178.4,-17.4],[180,-16.8],[179.6,-18.4],[177.8,-18.6],[178.4,-17.4]]
];
const smallIslands = [
[[154.7,-5.4],[155.8,-6.5]],[[157,-7],[158.4,-8]],[[159.2,-8.4],[160.4,-9.3]],[[160.9,-9.5],[161.6,-10.2]],[[161.9,-10.4],[162.6,-10.9]],
[[167.2,-15.2],[167.8,-16.6]],
[[187.9,-13.8],[189,-14.2]],[[211,-17.6],[211.5,-18]],
[[92.6,13],[92.7,12]],[[97.4,1.3],[98.3,0.4]],[[98.8,-1],[99.5,-2]],[[105.9,-2.2],[106.6,-3]],[[107.7,-3],[108.2,-3]],
[[128.7,-3.1],[130.5,-3.3]],[[126.4,-3.4],[127.1,-3.4]],[[134.3,-5.6],[134.4,-6.8]],[[131.3,-7.6],[131.6,-8]],[[125,-1.9],[126,-2]]
];

const fields = [field13,field14,field15,field16,field17,field18,field19,field20];
const mjoLines = [mjo13,mjo14,mjo15,mjo16,mjo17,mjo18,mjo19,mjo20];
const lowLines = [low13,low14,low15,low16,low17,low18,low19,low20];
const kelvinLines = [kelvin13,kelvin14,kelvin15,kelvin16,kelvin17,kelvin18,kelvin19,kelvin20];
const erLines = [er13,er14,er15,er16,er17,er18,er19,er20];

/* ---------- Layout ---------- */
const SVGNS = 'http://www.w3.org/2000/svg';
const panelW = 634, panelH = 141;
const colX = [102, 845];
const rowY = [45, 278, 510, 743];

function mk(tag, attrs, parent, txt) {
  const e = document.createElementNS(SVGNS, tag);
  for (const k in attrs) e.setAttribute(k, attrs[k]);
  if (txt !== undefined) e.textContent = txt;
  parent.appendChild(e);
  return e;
}
function clampIdx(i, n) { return i < 0 ? 0 : (i > n - 1 ? n - 1 : i); }
function cubic(a, b, c, d, t) {
  return b + 0.5 * t * (c - a + t * (2 * a - 5 * b + 4 * c - d + t * (3 * (b - c) + d - a)));
}
function sampleField(f, lon, lat) {
  const fx = (lon - gridLons[0]) / (gridLons[1] - gridLons[0]);
  const fy = (gridLats[0] - lat) / (gridLats[0] - gridLats[1]);
  const ix = Math.floor(fx), iy = Math.floor(fy);
  const tx = fx - ix, ty = fy - iy;
  const vals = [];
  for (let j = -1; j <= 2; j++) {
    const row = f[clampIdx(iy + j, gridLats.length)];
    vals.push(cubic(row[clampIdx(ix - 1, gridLons.length)], row[clampIdx(ix, gridLons.length)],
                    row[clampIdx(ix + 1, gridLons.length)], row[clampIdx(ix + 2, gridLons.length)], tx));
  }
  return cubic(vals[0], vals[1], vals[2], vals[3], ty);
}
function bandIndex(v) {
  let i = 0;
  while (i < colorLevels.length && v >= colorLevels[i]) i++;
  return i;
}
function smoothPath(pts, xs, ys) {
  const p = pts.map(q => [xs(q[0]), ys(q[1])]);
  const n = p.length;
  const closed = n > 3 && pts[0][0] === pts[n - 1][0] && pts[0][1] === pts[n - 1][1];
  let d = 'M' + p[0][0].toFixed(1) + ' ' + p[0][1].toFixed(1);
  for (let i = 0; i < n - 1; i++) {
    let p0 = p[i - 1], p3 = p[i + 2];
    if (!p0) p0 = closed ? p[n - 2] : p[i];
    if (!p3) p3 = closed ? p[1] : p[i + 1];
    const p1 = p[i], p2 = p[i + 1];
    const c1x = p1[0] + (p2[0] - p0[0]) / 6, c1y = p1[1] + (p2[1] - p0[1]) / 6;
    const c2x = p2[0] - (p3[0] - p1[0]) / 6, c2y = p2[1] - (p3[1] - p1[1]) / 6;
    d += 'C' + c1x.toFixed(1) + ' ' + c1y.toFixed(1) + ' ' + c2x.toFixed(1) + ' ' + c2y.toFixed(1) + ' ' + p2[0].toFixed(1) + ' ' + p2[1].toFixed(1);
  }
  return d;
}
function polyPath(pts, xs, ys) {
  return pts.map((q, i) => (i ? 'L' : 'M') + xs(q[0]).toFixed(1) + ' ' + ys(q[1]).toFixed(1)).join('');
}

const panelsRoot = document.getElementById('panels');
const lineStyles = [
  { key: 'mjo', color: '#000000', arr: mjoLines },
  { key: 'low', color: '#a020f0', arr: lowLines },
  { key: 'kelvin', color: '#0000ff', arr: kelvinLines },
  { key: 'er', color: '#ff0000', arr: erLines }
];

dates.forEach(function (date, idx) {
  const col = idx < 4 ? 0 : 1, row = idx % 4;
  const x0 = colX[col], y0 = rowY[row];
  const xs = lon => x0 + (lon - 60) / 180 * panelW;
  const ys = lat => y0 + (20 - lat) / 40 * panelH;

  const g = mk('g', {}, panelsRoot);
  
  

  const clipId = 'clip-' + idx;
  const defs = mk('defs', {}, g);
  const cp = mk('clipPath', { id: clipId }, defs);
  mk('rect', { x: x0, y: y0, width: panelW, height: panelH }, cp);

  /* filled bands, built from the field array through the axis functions */
  const bandD = bandColors.map(() => []);
  const f = fields[idx];
  for (let py = 0; py < panelH; py++) {
    const lat = 20 - (py + 0.5) / panelH * 40;
    let runStart = 0, runBand = -1;
    for (let px = 0; px <= panelW; px++) {
      let b = -2;
      if (px < panelW) b = bandIndex(sampleField(f, 60 + (px + 0.5) / panelW * 180, lat));
      if (b !== runBand) {
        if (runBand >= 0) bandD[runBand].push('M' + (x0 + runStart) + ' ' + (y0 + py) + 'h' + (px - runStart) + 'v1h-' + (px - runStart) + 'z');
        runStart = px; runBand = b;
      }
    }
  }
  const fg = mk('g', { 'shape-rendering': 'crispEdges' }, g);
  
  
  bandColors.forEach(function (c, b) {
    if (!bandD[b].length) return;
    const bp = mk('path', { d: bandD[b].join(''), fill: c }, fg);
    
    
  });

  const clipG = mk('g', { 'clip-path': 'url(#' + clipId + ')' }, g);
  
  

  /* coastlines */
  const coastD = coastlines.map(c => polyPath(c, xs, ys)).join('');
  const coast = mk('path', { d: coastD, fill: 'none', stroke: '#666666', 'stroke-width': 1.9, 'stroke-linejoin': 'round', 'stroke-linecap': 'round' }, clipG);
  
  
  const islandD = smallIslands.map(c => polyPath(c, xs, ys)).join('');
  const islands = mk('path', { d: islandD, fill: 'none', stroke: '#666666', 'stroke-width': 2.8, 'stroke-linecap': 'round' }, clipG);
  
  

  /* reference lines */
  const eq = mk('line', { x1: xs(60), x2: xs(240), y1: ys(0), y2: ys(0), stroke: '#555', 'stroke-width': 1.6, 'stroke-dasharray': '5 4' }, clipG);
  
  
  const dl = mk('line', { x1: xs(180), x2: xs(180), y1: ys(20), y2: ys(-20), stroke: '#555', 'stroke-width': 1.6, 'stroke-dasharray': '5 4' }, clipG);
  
  

  /* filtered contours */
  lineStyles.forEach(function (st) {
    st.arr[idx].forEach(function (trace, k) {
      const lp = mk('path', { d: smoothPath(trace, xs, ys), fill: 'none', stroke: st.color, 'stroke-width': 1.9, 'stroke-linejoin': 'round' }, clipG);
      
      
    });
  });

  /* frame and ticks */
  let tickD = '';
  for (let lon = 60; lon <= 240; lon += 10) {
    const big = lon % 60 === 0;
    const len = big ? 6 : 3.5;
    tickD += 'M' + xs(lon) + ' ' + y0 + 'v-' + len + 'M' + xs(lon) + ' ' + (y0 + panelH) + 'v' + len;
  }
  for (let lat = -20; lat <= 20; lat += 2) {
    const big = lat % 10 === 0;
    const len = big ? 6 : 3;
    tickD += 'M' + x0 + ' ' + ys(lat) + 'h-' + len + 'M' + (x0 + panelW) + ' ' + ys(lat) + 'h' + len;
  }
  const ticks = mk('path', { d: tickD, stroke: '#000', 'stroke-width': 2, fill: 'none' }, g);
  
  
  const frame = mk('rect', { x: x0, y: y0, width: panelW, height: panelH, fill: 'none', stroke: '#000', 'stroke-width': 3.2 }, g);
  
  

  /* labels */
  if (col === 0) {
    latTicks.forEach(function (lat, k) {
      const t = mk('text', { x: x0 - 28, y: ys(lat) + 12.5, 'font-size': 34, 'text-anchor': 'end' }, g, latTickLabels[k]);
      
      
    });
  }
  const title = mk('text', { x: x0 - 3, y: y0 - 14, 'font-size': 34.8 }, g, date);
  
  
  if (row === 3) {
    lonTicks.forEach(function (lon, k) {
      const t = mk('text', { x: xs(lon) - 0.5, y: 940, 'font-size': 34.5, 'text-anchor': 'middle' }, g, lonTickLabels[k]);
      
      
    });
  }
  if (row === 0) {
    const t = mk('text', { x: x0 + panelW + 0.5, y: 38, 'font-size': 34.8, 'text-anchor': 'end' }, g, col === 0 ? 'Observed' : 'CFS Forecast');
    
    
  }
});

/* ---------- Colorbar ---------- */
const cb = document.getElementById('colorbar');
const cbX = 230, cbY = 1003, cbH = 23, cbStep = 603 / bandColors.length;
bandColors.forEach(function (c, i) {
  const r = mk('rect', { x: cbX + i * cbStep, y: cbY, width: cbStep, height: cbH, fill: c, stroke: '#000', 'stroke-width': 1.6 }, cb);
  
  
});
colorLevels.forEach(function (v, i) {
  const t = mk('text', { x: cbX + (i + 1) * cbStep, y: 1055, 'font-size': 30, 'text-anchor': 'middle' }, cb, String(v));
  
  
});
</script>
</body>
</html>
